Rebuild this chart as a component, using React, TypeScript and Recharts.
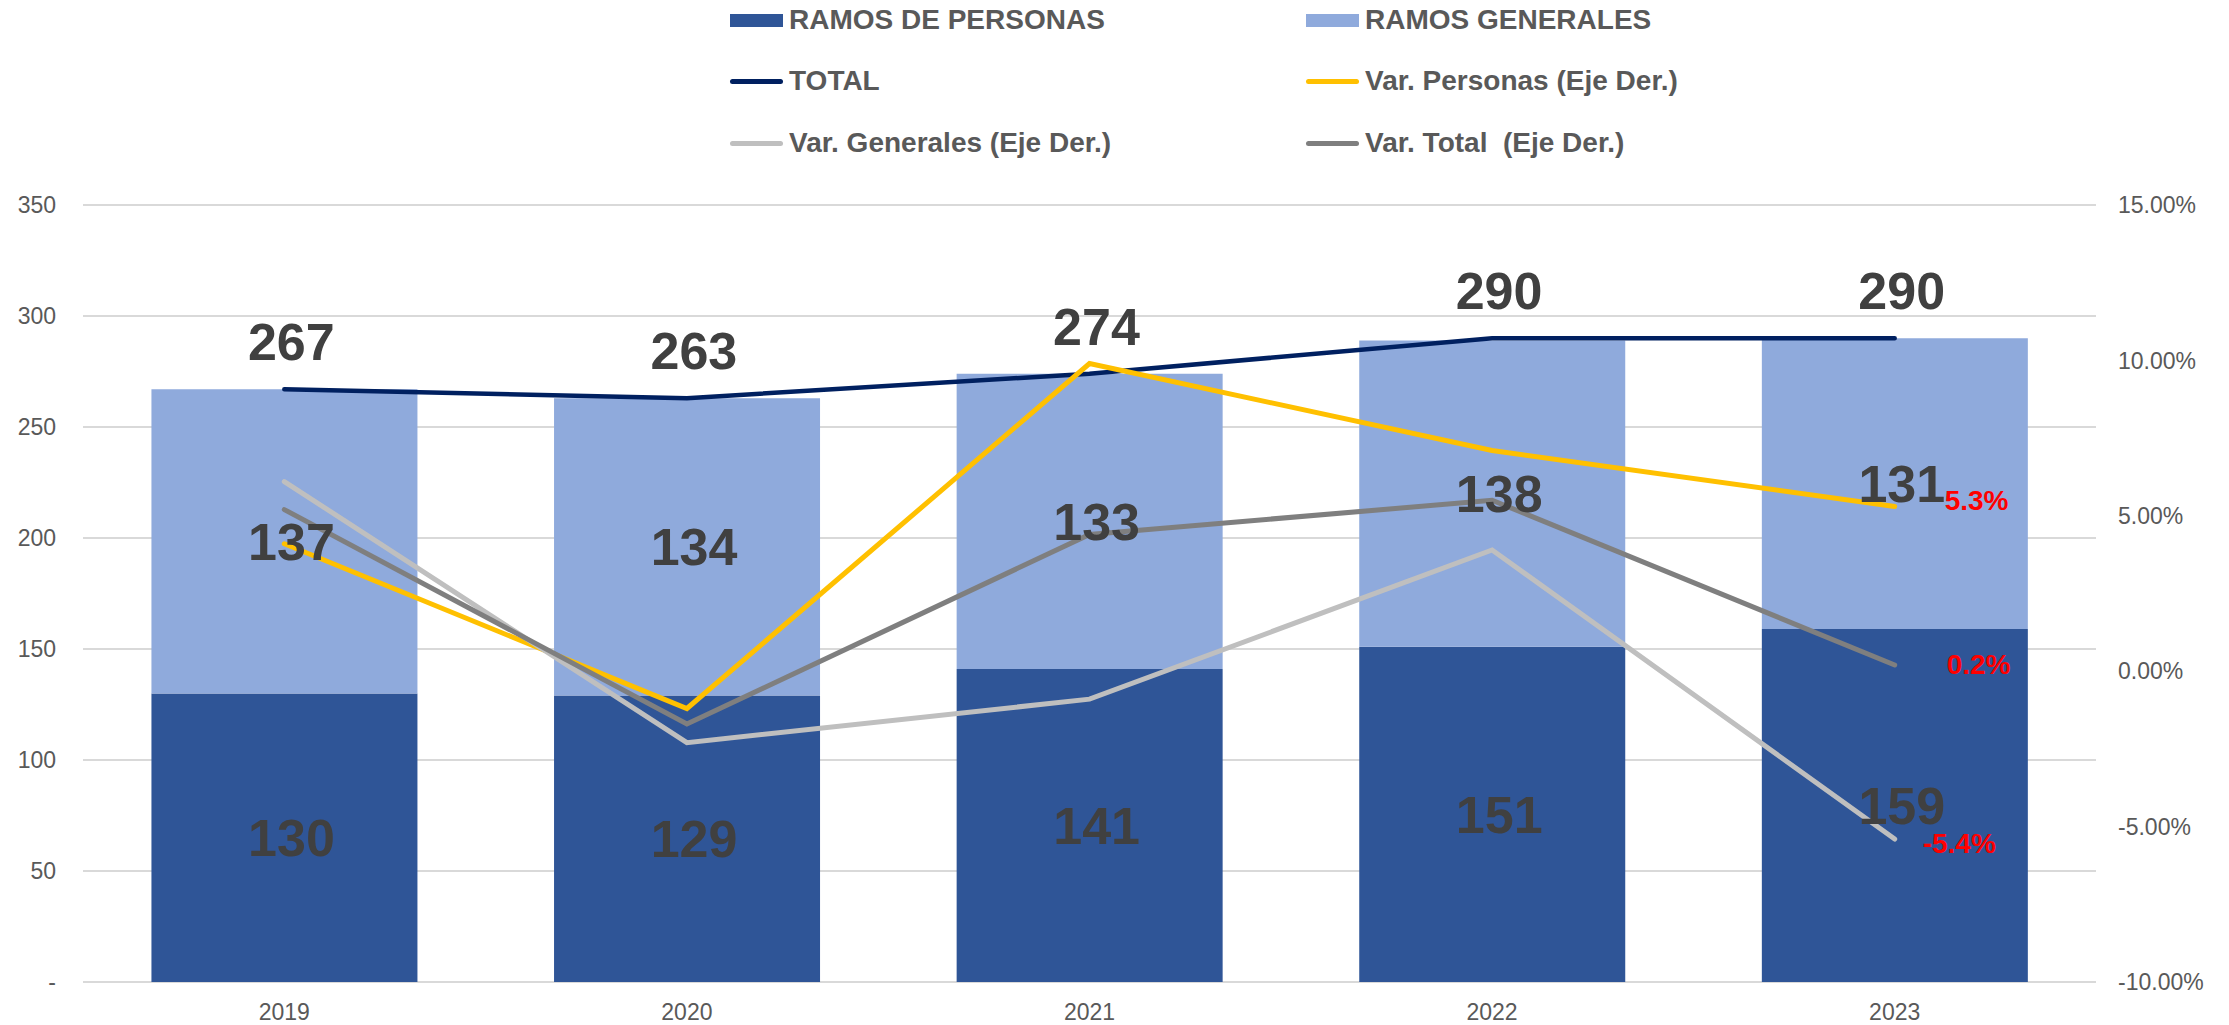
import { ComposedChart, Bar, Line, XAxis, YAxis, CartesianGrid, Legend, LabelList } from "recharts"

const years = ["2019", "2020", "2021", "2022", "2023"]
const ramosPersonas = [130, 129, 141, 151, 159]
const ramosGenerales = [137, 134, 133, 138, 131]
const total = [267, 263, 274, 290, 290]
// variaciones en %, eje derecho
const varPersonas = [4.1, -1.2, 9.9, 7.1, 5.3]
const varGenerales = [6.1, -2.3, -0.9, 3.9, -5.4]
const varTotal = [5.2, -1.7, 4.4, 5.5, 0.2]

const leftTicks = [0, 50, 100, 150, 200, 250, 300, 350]
const rightTicks = [-10, -5, 0, 5, 10, 15]

const data = years.map((year, i) => ({
  year,
  personas: ramosPersonas[i],
  generales: ramosGenerales[i],
  total: total[i],
  varPersonas: varPersonas[i],
  varGenerales: varGenerales[i],
  varTotal: varTotal[i],
}))

const FONT = "'Liberation Sans', Arial, sans-serif"
const LABEL_GRAY = "#404040"
const AXIS_GRAY = "#595959"

const legendItems = [
  { name: "RAMOS DE PERSONAS", color: "#2F5597", kind: "rect", col: 0, row: 0 },
  { name: "RAMOS GENERALES", color: "#8FAADC", kind: "rect", col: 1, row: 0 },
  { name: "TOTAL", color: "#002060", kind: "line", col: 0, row: 1 },
  { name: "Var. Personas (Eje Der.)", color: "#FFC000", kind: "line", col: 1, row: 1 },
  { name: "Var. Generales (Eje Der.)", color: "#BFBFBF", kind: "line", col: 0, row: 2 },
  { name: "Var. Total  (Eje Der.)", color: "#7F7F7F", kind: "line", col: 1, row: 2 },
]

const colX = [730, 1306]
const rowY = [20, 81, 143]

function ChartLegend() {
  return (
    <div style={{ position: "relative", width: 2229, height: 180, fontFamily: FONT }}>
      {legendItems.map((it) => (
        <div
          key={it.name}
          style={{
            position: "absolute",
            left: colX[it.col],
            top: rowY[it.row] - 17,
            height: 34,
            display: "flex",
            alignItems: "center",
            whiteSpace: "pre",
          }}
        >
          {it.kind === "rect" ? (
            <div style={{ width: 53, height: 13, background: it.color }} />
          ) : (
            <div style={{ width: 53, height: 5, borderRadius: 3, background: it.color }} />
          )}
          <span style={{ marginLeft: 6, fontSize: 28, fontWeight: "bold", color: AXIS_GRAY }}>{it.name}</span>
        </div>
      ))}
    </div>
  )
}

const lastIndex = years.length - 1

function varLabel(dx: number, dy: number) {
  return (props: any) => {
    const { x, y, value, index } = props
    if (index !== lastIndex || value == null) return null
    return (
      <text
        x={x + dx}
        y={y + dy}
        fill="#FF0000"
        fontSize={28}
        fontWeight="bold"
        fontFamily={FONT}
        textAnchor="start"
        dominantBaseline="central"
      >
        {`${Number(value).toFixed(1)}%`}
      </text>
    )
  }
}

export default function App() {
  return (
    <div style={{ position: "absolute", left: 0, top: 0, fontFamily: FONT }}>
      <ComposedChart
        width={2229}
        height={1025}
        data={data}
        margin={{ top: 205, right: 0, bottom: 0, left: 0 }}
        barCategoryGap="17%"
      >
        <CartesianGrid yAxisId="left" vertical={false} stroke="#D9D9D9" strokeWidth={2} />
        <XAxis
          dataKey="year"
          height={43}
          axisLine={false}
          tickLine={false}
          tickSize={0}
          tickMargin={22}
          tick={{ fill: AXIS_GRAY, fontSize: 23, fontFamily: FONT }}
        />
        <YAxis
          yAxisId="left"
          orientation="left"
          width={83}
          domain={[0, 350]}
          ticks={leftTicks}
          interval={0}
          axisLine={false}
          tickLine={false}
          tickSize={0}
          tickMargin={27}
          tickFormatter={(v: number) => (v === 0 ? "-" : String(v))}
          tick={{ fill: AXIS_GRAY, fontSize: 23, fontFamily: FONT }}
        />
        <YAxis
          yAxisId="right"
          orientation="right"
          width={133}
          domain={[-10, 15]}
          ticks={rightTicks}
          interval={0}
          axisLine={false}
          tickLine={false}
          tickSize={0}
          tickMargin={22}
          tickFormatter={(v: number) => `${v.toFixed(2)}%`}
          tick={{ fill: AXIS_GRAY, fontSize: 23, fontFamily: FONT, textAnchor: "start" }}
        />
        <Legend
          verticalAlign="middle"
          align="center"
          layout="horizontal"
          wrapperStyle={{ top: 0, left: 0, width: 2229, height: 180 }}
          content={() => <ChartLegend />}
        />
        <Bar yAxisId="left" dataKey="personas" name="RAMOS DE PERSONAS" stackId="a" fill="#2F5597" isAnimationActive={false}>
          <LabelList dataKey="personas" position="center" dx={7} fill={LABEL_GRAY} fontSize={52} fontWeight="bold" fontFamily={FONT} />
        </Bar>
        <Bar yAxisId="left" dataKey="generales" name="RAMOS GENERALES" stackId="a" fill="#8FAADC" isAnimationActive={false}>
          <LabelList dataKey="generales" position="center" dx={7} fill={LABEL_GRAY} fontSize={52} fontWeight="bold" fontFamily={FONT} />
        </Bar>
        <Line
          yAxisId="left"
          dataKey="total"
          name="TOTAL"
          stroke="#002060"
          strokeWidth={4.5}
          strokeLinecap="round"
          dot={false}
          activeDot={false}
          isAnimationActive={false}
        >
          <LabelList dataKey="total" position="top" offset={29} dx={7} fill={LABEL_GRAY} fontSize={52} fontWeight="bold" fontFamily={FONT} />
        </Line>
        <Line
          yAxisId="right"
          dataKey="varPersonas"
          name="Var. Personas (Eje Der.)"
          stroke="#FFC000"
          strokeWidth={5}
          strokeLinecap="round"
          dot={false}
          activeDot={false}
          isAnimationActive={false}
        >
          <LabelList dataKey="varPersonas" content={varLabel(50, -6)} />
        </Line>
        <Line
          yAxisId="right"
          dataKey="varGenerales"
          name="Var. Generales (Eje Der.)"
          stroke="#BFBFBF"
          strokeWidth={5}
          strokeLinecap="round"
          dot={false}
          activeDot={false}
          isAnimationActive={false}
        >
          <LabelList dataKey="varGenerales" content={varLabel(28, 4)} />
        </Line>
        <Line
          yAxisId="right"
          dataKey="varTotal"
          name="Var. Total  (Eje Der.)"
          stroke="#7F7F7F"
          strokeWidth={5}
          strokeLinecap="round"
          dot={false}
          activeDot={false}
          isAnimationActive={false}
        >
          <LabelList dataKey="varTotal" content={varLabel(52, 0)} />
        </Line>
      </ComposedChart>
    </div>
  )
}
